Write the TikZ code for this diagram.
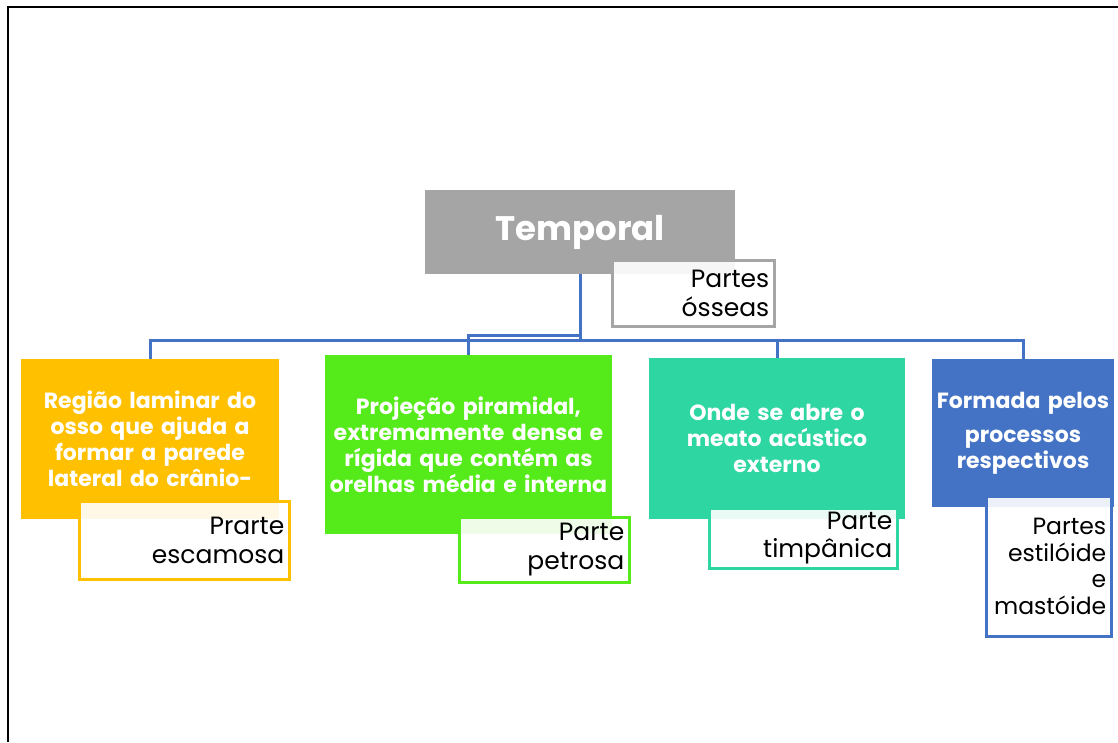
\documentclass[tikz,border=0pt]{standalone}
\usepackage{fontspec}
\setmainfont{Poppins}
\definecolor{cgray}{HTML}{A5A5A5}
\definecolor{cyellow}{HTML}{FFC000}
\definecolor{cgreen}{HTML}{55EA1A}
\definecolor{cteal}{HTML}{2ED6A1}
\definecolor{cblue}{HTML}{4472C4}
\tikzset{
	partbox/.style={inner sep=0pt, text=white, align=center, font=\bfseries\fontsize{22}{26}\selectfont},
	labelbox/.style={draw=#1, line width=2.5pt, fill=white, fill opacity=0.9, text opacity=1, inner sep=0pt, align=right, anchor=north west, font=\fontsize{25}{28.5}\selectfont},
	link/.style={draw=cblue, line width=3pt}
}
\begin{document}
\begin{tikzpicture}[x=1pt,y=-1pt]
	\useasboundingbox (0,0) rectangle (1118,742);
	\draw[black, line width=2pt] (8,742) -- (8,7) -- (1118,7);
	
	\node[partbox, fill=cgray, minimum width=310pt, minimum height=84pt, font=\bfseries\fontsize{34}{40}\selectfont] (temporal) at (580,232) {Temporal};
	\node[labelbox=cgray, minimum width=162pt, minimum height=66pt, text width=152pt] (osseas) at (611,259) {Partes\\ósseas};
	
	\node[partbox, fill=cyellow, minimum width=258pt, minimum height=160pt, text width=256pt] (escamosa) at (150,439) {Região laminar do\\osso que ajuda a\\formar a parede\\lateral do crânio-};
	\node[partbox, fill=cgreen, minimum width=287pt, minimum height=179pt, text width=287pt] (petrosa) at (468.5,444.5) {Projeção piramidal,\\extremamente densa e\\rígida que contém as\\orelhas média e interna};
	\node[partbox, fill=cteal, minimum width=256pt, minimum height=161pt, text width=250pt] (timpanica) at (777,438.5) {Onde se abre o\\meato acústico\\externo};
	\node[partbox, fill=cblue, minimum width=182pt, minimum height=148pt, text width=182pt] (estiloide) at (1023,433) {Formada pelos\\[8pt]processos\\respectivos};
	
	\node[labelbox=cyellow, minimum width=210pt, minimum height=78pt, text width=200pt] (escamosalbl) at (78,500) {Prarte\\escamosa};
	\node[labelbox=cgreen, minimum width=170pt, minimum height=65pt, text width=160pt] (petrosalbl) at (458,516) {Parte\\petrosa};
	\node[labelbox=cteal, minimum width=188pt, minimum height=60pt, text width=178pt] (timpanicalbl) at (708,507) {Parte\\timpânica};
	\node[labelbox=cblue, minimum width=125pt, minimum height=140pt, text width=115pt, font=\fontsize{23.5}{26.5}\selectfont] (estiloidelbl) at (985,495) {Partes\\estilóide\\e\\mastóide};
	
	\draw[link] (escamosa.north) -- ++(0,-18) coordinate (bar) -| (estiloide.north);
	\draw[link] (timpanica.north) -- (timpanica.north |- bar);
	\draw[link] (temporal.south) -- (temporal.south |- bar);
	\draw[link] (petrosa.north) -- ++(0,-19) -| (temporal.south);
\end{tikzpicture}
\end{document}
